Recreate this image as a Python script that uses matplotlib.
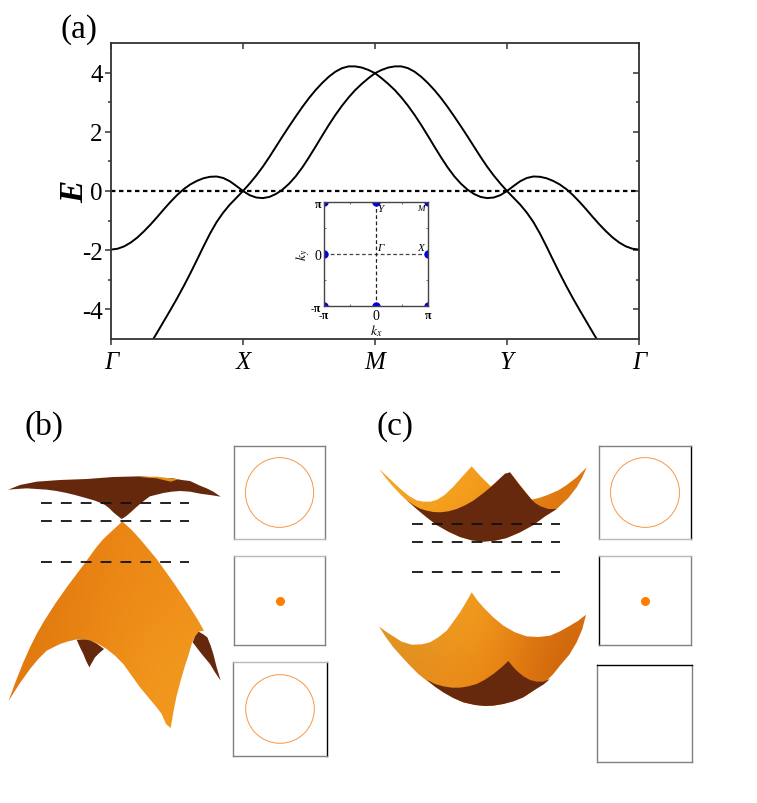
import numpy as np
import matplotlib
matplotlib.use('Agg')
import matplotlib.pyplot as plt
from matplotlib.patches import Polygon, Circle

plt.rcParams['font.family'] = ['Liberation Serif', 'DejaVu Serif']
plt.rcParams['mathtext.fontset'] = 'stix'

W, H = 757, 804

# band structure along G-X-M-Y-G, step 0.05 in path units
k_path = np.linspace(0, 4, 81)
band_a = [-1.98,-1.95,-1.87,-1.74,-1.57,-1.36,-1.13,-0.88,-0.62,-0.37,-0.14,0.06,0.22,0.34,0.43,0.48,0.49,0.44,0.33,0.17,
          0.00,-0.14,-0.22,-0.24,-0.20,-0.10,0.05,0.25,0.50,0.80,1.14,1.50,1.87,2.23,2.57,2.88,3.16,3.41,3.62,3.81,
          3.98,4.09,4.17,4.21,4.21,4.15,4.03,3.86,3.65,3.41,3.14,2.84,2.52,2.19,1.85,1.50,1.15,0.82,0.52,0.25,
          0.00,-0.23,-0.46,-0.73,-1.05,-1.44,-1.88,-2.34,-2.79,-3.22,-3.63,-4.02,-4.40,-4.78,-5.15]
band_b = [-5.15,-4.78,-4.40,-4.02,-3.63,-3.22,-2.79,-2.34,-1.88,-1.44,-1.05,-0.73,-0.46,-0.23,
          0.00,0.25,0.52,0.82,1.15,1.50,1.85,2.19,2.52,2.84,3.14,3.41,3.65,3.86,4.03,4.15,4.21,4.21,4.17,4.09,
          3.98,3.81,3.62,3.41,3.16,2.88,2.57,2.23,1.87,1.50,1.14,0.80,0.50,0.25,0.05,-0.10,-0.20,-0.24,-0.22,-0.14,
          0.00,0.17,0.33,0.44,0.49,0.48,0.43,0.34,0.22,0.06,-0.14,-0.37,-0.62,-0.88,-1.13,-1.36,-1.57,-1.74,-1.87,-1.95,-1.98]
path_labels = ['Γ', 'X', 'M', 'Y', 'Γ']
e_ticks = [-4, -2, 0, 2, 4]
e_minor = [-3, -1, 1, 3]

# high symmetry points of the BZ inset, in units of pi
bz_x = [-1, 0, 1, -1, 1, -1, 0, 1]
bz_y = [1, 1, 1, 0, 0, -1, -1, -1]

# surface outlines (panel units: 3 per pixel)
b_upper = [(25,272),(60,258),(110,248),(180,243),(260,240),(340,234),(420,232),(470,236),(520,238),(545,243),(570,246),(600,260),
           (620,268),(640,278),(662,293),(630,288),(600,284),(570,278),(540,276),(515,278),(490,282),(470,287),(450,292),(435,303),
           (420,315),(405,328),(392,340),(378,352),(365,360),(352,350),(340,340),(328,328),(315,318),(300,311),
           (285,305),(268,300),(250,295),(225,288),(200,282),(170,276),(140,272),(110,270),(80,268),(50,270)]
b_sliver = [(410,233),(470,233),(535,241),(512,248),(470,238),(430,235)]
b_lower = [(367,367),(395,393),(420,420),(445,450),(470,480),(495,515),(520,550),(545,587),(570,625),(592,660),(612,695),
           (596,698),(583,715),(575,735),(565,770),(555,800),(542,845),(530,890),(520,940),(512,987),(498,975),(485,945),
           (470,925),(445,895),(420,865),(395,830),(370,795),(345,770),(320,750),(295,735),(270,725),(250,721),(235,720),
           (205,727),(180,735),(160,745),(140,755),(115,780),(90,810),(58,855),(25,907),(38,872),(50,840),(70,790),(90,745),
           (110,705),(130,670),(165,615),(200,565),(230,525),(260,485),(285,450),(310,420),(340,392)]
b_foot_l = [(230,722),(250,721),(270,724),(292,735),(312,750),(297,763),(285,775),(268,805),(258,785),(250,765),(240,745)]
b_foot_r = [(596,698),(610,706),(622,715),(632,740),(640,765),(650,805),(662,845),(645,820),(630,795),(605,765),(578,730),(585,712)]
c_upper = [(58,210),(80,231),(100,250),(125,273),(150,293),(170,304),(190,308),(212,308),(232,302),(255,287),(280,263),(305,235),
           (335,202),(362,232),(392,262),(450,220),(515,302),(540,296),(565,287),(595,274),(620,258),(650,235),(680,205),
           (667,235),(650,265),(625,297),(590,330),(555,352),(520,378),(480,400),(440,417),(405,425),(370,428),(335,424),
           (300,414),(265,398),(230,378),(200,355),(170,330),(145,308),(120,285),(95,258),(75,234)]
c_upper_dark = [(120,285),(140,303),(160,318),(180,329),(200,335),(220,339),(240,340),(265,337),(290,330),(315,319),(340,305),
                (368,284),(395,262),(420,238),(435,224),(450,220),(465,240),(480,260),(498,282),(515,302),(528,314),(542,322),
                (565,330),(590,330),(555,352),(520,378),(480,400),(440,417),(405,425),(370,428),(335,424),(300,414),(265,398),
                (230,378),(200,355),(170,330),(145,308)]
c_lower = [(57,682),(78,698),(100,712),(125,728),(155,737),(185,736),(210,730),(235,715),(260,695),(280,668),(300,640),(318,610),
           (335,580),(352,604),(370,625),(400,655),(430,680),(465,700),(500,712),(535,714),(570,710),(600,697),(630,680),(655,665),
           (678,647),(667,690),(650,730),(628,767),(600,800),(580,825),(560,845),(525,872),(490,895),(460,907),(430,915),(400,920),
           (375,921),(345,918),(310,910),(280,897),(250,880),(225,863),(200,845),(175,825),(150,800),(125,773),(100,745),(78,715)]
c_lower_dark = [(200,842),(225,855),(250,862),(275,866),(300,866),(325,862),(350,855),(375,842),(400,825),(425,805),(445,786),
                (458,802),(470,815),(490,832),(510,843),(530,848),(550,848),(570,840),(550,857),(525,872),(490,895),(460,907),
                (430,915),(400,920),(375,921),(345,918),(310,910),(280,897),(250,880),(225,863)]

# slices through the surfaces
b_slices = [312, 366, 490]
b_slice_x = [123, 568]
c_slices = [376, 428, 519]
c_slice_x = [155, 600]

# constant energy contours: (box in px, contour radius, dot, spine colors l r t b)
GR = '#808080'
LG = '#b8b8b8'
contours = [
    ((234,447,325,540), 0.75, False, [GR,GR,GR,LG]),
    ((234,557,325,646), 0, True, [GR,GR,LG,GR]),
    ((233,663,327,757), 0.73, False, [GR,'k',LG,GR]),
    ((599,447,691,540), 0.75, False, [GR,'k',GR,LG]),
    ((599,557,691,646), 0, True, ['k',GR,LG,GR]),
    ((597,666,692,763), 0, False, [GR,GR,'k',GR]),
]


def px_axes(x0, y0, x1, y1):
    return fig.add_axes([x0/W, 1-y1/H, (x1-x0)/W, (y1-y0)/H])


def shade(ax, outline, colors):
    # orange surface with a soft colour gradient, clipped to its outline
    pts = np.array(outline)
    im = ax.imshow(np.array(colors)/255., extent=(pts[:,0].min(), pts[:,0].max(), pts[:,1].max(), pts[:,1].min()),
                   aspect='auto', interpolation='bicubic', zorder=1)
    patch = Polygon(pts, closed=True, fc='none', ec='none', transform=ax.transData)
    ax.add_patch(patch)
    im.set_clip_path(patch)


def panel(x0):
    ax = px_axes(x0, 400, x0+340, 800)
    ax.axis('off')
    return ax


fig = plt.figure(figsize=(W/100, H/100), dpi=100)

# (a) bands
ax = px_axes(111, 44, 639, 340)
ax.plot(k_path[:len(band_a)], band_a, color='k', lw=1.4)
ax.plot(k_path[-len(band_b):], band_b, color='k', lw=1.4)
ax.axhline(0, color='k', lw=1.6, ls=(0, (2, 1.6)))
ax.set_xlim(0, 4)
ax.set_ylim(-5, 5)
ax.set_xticks(range(5))
ax.set_xticklabels(path_labels, fontsize=18, style='italic')
ax.set_yticks(e_ticks)
ax.set_yticklabels([str(v) for v in e_ticks], fontsize=18)
ax.set_yticks(e_minor, minor=True)
ax.tick_params(axis='both', which='major', length=4, width=1.1, color='#333333', pad=5)
ax.tick_params(axis='y', which='major', pad=2)
ax.tick_params(axis='y', which='minor', length=2.5, width=1.1, color='#333333')
for s in ax.spines.values():
    s.set_linewidth(1.3)
    s.set_color('#333333')
ax.set_ylabel('E', fontsize=24, style='italic', weight='bold', labelpad=-6)

# mirrored ticks point inwards on the top and right
right = ax.secondary_yaxis('right')
right.set_yticks(e_ticks, labels=[])
right.set_yticks(e_minor, minor=True)
right.tick_params(axis='y', which='major', direction='in', length=4, width=1.1, color='#333333')
right.tick_params(axis='y', which='minor', direction='in', length=2.5, width=1.1, color='#333333')
right.spines['right'].set_visible(False)
top = ax.secondary_xaxis('top')
top.set_xticks(range(5), labels=[])
top.tick_params(axis='x', direction='in', length=4, width=1.1, color='#333333')
top.spines['top'].set_visible(False)
fig.text(60/W, 1-38/H, '(a)', fontsize=24)

# BZ inset
bz = px_axes(324, 203, 428, 307)
bz.axhline(0, color='#444444', lw=0.9, ls=(0, (3, 2)))
bz.axvline(0, color='#222222', lw=0.9, ls=(0, (3, 2)))
bz.plot(bz_x, bz_y, 'o', color='#0000e0', ms=5, ls='none')
bz.set_xlim(-1, 1)
bz.set_ylim(-1, 1)
bz.set_xticks([-1, 0, 1])
bz.set_xticklabels(['-π', '0', 'π'], fontsize=8.5, weight='bold')
bz.set_yticks([-1, 0, 1])
bz.set_yticklabels(['-π', '0', 'π'], fontsize=8.5, weight='bold')
for lab in (bz.get_xticklabels()[1], bz.get_yticklabels()[1]):
    lab.set_weight('normal')
    lab.set_fontsize(10)
bz.set_xticks([-0.5, 0.5], minor=True)
bz.set_yticks([-0.5, 0.5], minor=True)
bz.tick_params(which='both', direction='in', top=True, right=True, length=1.5, width=0.6, pad=2, color='#555555')
for s in bz.spines.values():
    s.set_linewidth(1.0)
    s.set_color('#444444')
bz.text(0.03, 0.88, 'Y', fontsize=8, style='italic', va='center')
bz.text(0.80, 0.88, 'M', fontsize=6.5, style='italic', va='center')
bz.text(0.03, 0.12, 'Γ', fontsize=8, style='italic', va='center')
bz.text(0.80, 0.12, 'X', fontsize=8, style='italic', va='center')
bz.set_xlabel('$k_x$', fontsize=10, labelpad=0)
bz.set_ylabel('$k_y$', fontsize=10, labelpad=-1)

# (b) gapless cone
pb = panel(0)
shade(pb, b_lower, [[[226,122,16],[234,132,20],[238,140,24]],
                    [[224,120,14],[236,138,22],[240,148,28]],
                    [[226,124,16],[238,142,24],[242,154,32]]])
for poly in (b_foot_l, b_foot_r, b_upper):
    pb.add_patch(Polygon(poly, closed=True, fc='#66280c', ec='none', zorder=2))
pb.add_patch(Polygon(b_sliver, closed=True, fc='#e8901c', ec='none', zorder=2))
for y in b_slices:
    pb.plot(b_slice_x, [y, y], color='#111111', lw=1.3, ls=(0, (6, 5)), zorder=3)
pb.set_xlim(0, 1020)
pb.set_ylim(1200, 0)
fig.text(24/W, 1-435/H, '(b)', fontsize=24)

# (c) gapped bands
pc = panel(360)
shade(pc, c_upper, [[[245,165,35],[248,160,30],[222,120,16]],
                    [[245,160,30],[240,150,25],[215,110,14]]])
pc.add_patch(Polygon(c_upper_dark, closed=True, fc='#66290e', ec='none', zorder=2))
shade(pc, c_lower, [[[226,150,36],[250,160,30],[214,110,14]],
                    [[224,146,34],[246,152,26],[206,100,12]],
                    [[226,140,30],[240,140,22],[206,100,12]]])
pc.add_patch(Polygon(c_lower_dark, closed=True, fc='#66290e', ec='none', zorder=2))
for y in c_slices:
    pc.plot(c_slice_x, [y, y], color='#111111', lw=1.3, ls=(0, (6, 5)), zorder=3)
pc.set_xlim(0, 1020)
pc.set_ylim(1200, 0)
fig.text(377/W, 1-435/H, '(c)', fontsize=24)

# constant energy boxes
for box, radius, dot, edge in contours:
    c = px_axes(*box)
    c.set_xlim(-1, 1)
    c.set_ylim(-1, 1)
    c.set_xticks([])
    c.set_yticks([])
    for side, col in zip(['left', 'right', 'top', 'bottom'], edge):
        c.spines[side].set_color(col)
        c.spines[side].set_linewidth(1.0)
    if radius:
        c.add_patch(Circle((0, 0), radius, fc='none', ec='#f2994a', lw=0.7))
    if dot:
        c.plot([0], [0], 'o', color='#ff8000', ms=5.5)

fig.savefig('out.png', dpi=100)
